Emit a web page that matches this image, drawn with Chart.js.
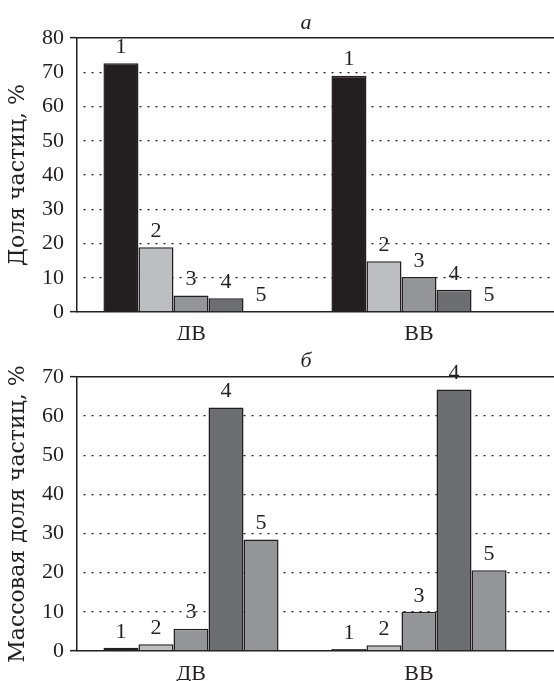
<!DOCTYPE html>
<html>
<head>
<meta charset="utf-8">
<script src="https://cdn.jsdelivr.net/npm/chart.js@4.4.0/dist/chart.umd.min.js"></script>
<style>
html, body { margin: 0; padding: 0; background: #fff; overflow: hidden; }
#wrap { position: relative; width: 554px; height: 681px; overflow: hidden; }
.box { position: absolute; left: 0; width: 761px; }
.ttl { position: absolute; left: 291px; width: 30px; text-align: center; line-height: 22px;
       font: italic 22px "Liberation Serif", serif; color: #231f20; }
</style>
</head>
<body>
<div id="wrap">
  <div class="box" style="top:0;height:340px"><canvas id="chartA" width="761" height="340"></canvas></div>
  <div class="box" style="top:340px;height:341px"><canvas id="chartB" width="761" height="341"></canvas></div>
  <div class="ttl" style="top:9px">а</div>
  <div class="ttl" style="top:347px">б</div>
</div>
<script>
// categories (two samples)
var categories = ['ДВ', 'ВВ'];

// а: доля частиц по фракциям 1..5, %
var countFrac1 = [72.6, 69.0];
var countFrac2 = [18.9, 14.8];
var countFrac3 = [4.8, 10.2];
var countFrac4 = [4.0, 6.5];
var countFrac5 = [0.3, 0.3];

// б: массовая доля частиц по фракциям 1..5, %
var massFrac1 = [0.8, 0.5];
var massFrac2 = [1.7, 1.5];
var massFrac3 = [5.7, 10.0];
var massFrac4 = [62.2, 66.8];
var massFrac5 = [28.5, 20.6];

var fracNames = ['1', '2', '3', '4', '5'];
var fracColors = ['#231f20', '#bcbec0', '#939598', '#6d6e71', '#939598'];
var ink = '#231f20';
var serif = '"Liberation Serif", serif';

// numbers above bars
var barNumbers = {
    id: 'barNumbers',
    afterDatasetsDraw: function(chart) {
        var ctx = chart.ctx;
        ctx.save();
        ctx.fillStyle = ink;
        ctx.font = '22px ' + serif;
        ctx.textAlign = 'center';
        ctx.textBaseline = 'bottom';
        chart.data.datasets.forEach(function(ds, i) {
            var meta = chart.getDatasetMeta(i);
            meta.data.forEach(function(bar, j) {
                if (ds.data[j] == null) return;
                ctx.fillText(ds.label, bar.x, bar.y - 5);
            });
        });
        ctx.restore();
    }
};

function makeChart(id, series, yMax, padTop, xHeight, xPad, yTitle) {
    var datasets = series.map(function(s, i) {
        return {
            label: fracNames[i],
            data: s,
            backgroundColor: fracColors[i],
            borderColor: ink,
            borderWidth: 1.5,
            borderSkipped: 'bottom',
            categoryPercentage: 0.768,
            barPercentage: 1
        };
    });
    return new Chart(document.getElementById(id), {
        type: 'bar',
        data: { labels: categories.concat(['']), datasets: datasets },
        options: {
            responsive: false,
            animation: false,
            devicePixelRatio: 1,
            layout: { padding: { top: padTop, left: 0, right: 0, bottom: 0 } },
            plugins: { legend: { display: false }, tooltip: { enabled: false } },
            scales: {
                x: {
                    grid: { display: false, drawTicks: false },
                    border: { display: true, color: ink, width: 1.5 },
                    ticks: { color: ink, font: { family: serif, size: 22 }, padding: xPad },
                    afterFit: function(s) { s.height = xHeight; }
                },
                xTop: {
                    type: 'category',
                    position: 'top',
                    grid: { display: false, drawTicks: false },
                    border: { display: true, color: ink, width: 1.5 },
                    ticks: { display: false },
                    afterFit: function(s) { s.height = 0; }
                },
                y: {
                    min: 0,
                    max: yMax,
                    ticks: { stepSize: 10, color: ink, font: { family: serif, size: 22 }, padding: 6 },
                    grid: {
                        color: function(c) {
                            return c.tick && (c.tick.value === 0 || c.tick.value === yMax) ? 'rgba(0,0,0,0)' : ink;
                        },
                        lineWidth: 1.3,
                        tickLength: 7,
                        tickWidth: 1.5,
                        tickColor: function(c) {
                            return c.tick && (c.tick.value === 0 || c.tick.value === yMax) ? ink : 'rgba(0,0,0,0)';
                        }
                    },
                    border: { display: true, color: ink, width: 1.5, dash: [2, 6], dashOffset: 2 },
                    title: {
                        display: true, text: yTitle, color: ink,
                        font: { family: '"DejaVu Serif", serif', size: 22 },
                        padding: { top: 5, bottom: 0 }
                    },
                    afterFit: function(s) { s.width = 77; }
                }
            }
        },
        plugins: [barNumbers]
    });
}

makeChart('chartA', [countFrac1, countFrac2, countFrac3, countFrac4, countFrac5], 80, 38, 28, 9, 'Доля частиц, %');
makeChart('chartB', [massFrac1, massFrac2, massFrac3, massFrac4, massFrac5], 70, 37, 30, 10, 'Массовая доля частиц, %');
</script>
</body>
</html>
